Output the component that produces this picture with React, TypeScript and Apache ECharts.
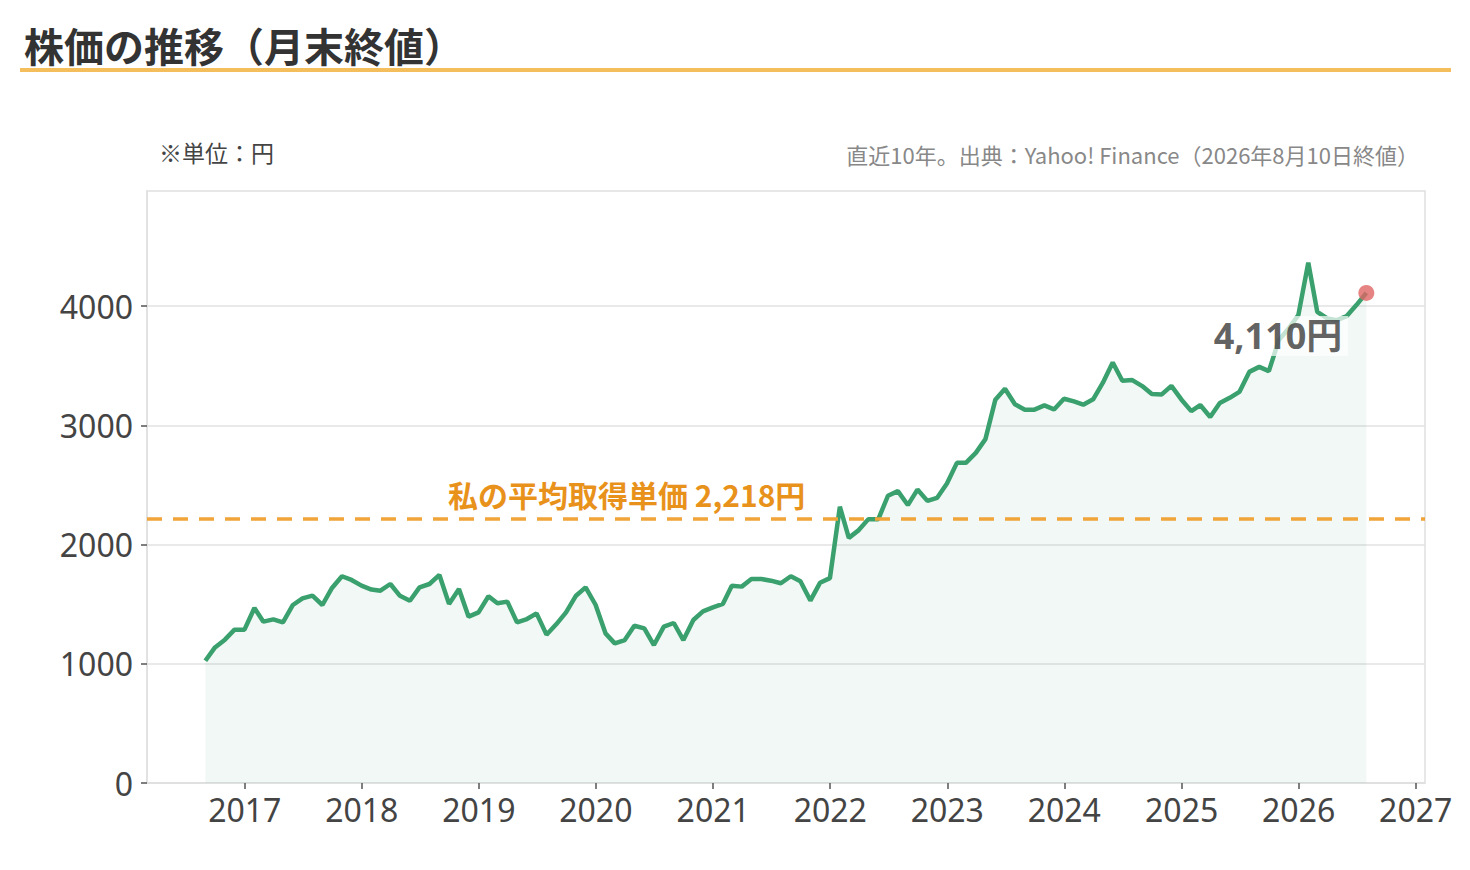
import React, { useEffect, useRef } from 'react'
import * as echarts from 'echarts'

// 月末終値（2016年8月〜2026年7月、最後は 2026/8/10 の終値相当）
const START_YEAR = 2016
const START_MONTH = 8
const prices = [
  1025, 1137, 1202, 1286, 1286, 1468, 1353, 1372, 1347, 1493, 1549, 1571,
  1493, 1636, 1734, 1703, 1655, 1622, 1613, 1669, 1570, 1529, 1641, 1669,
  1745, 1502, 1627, 1395, 1431, 1566, 1507, 1521, 1347, 1375, 1423, 1244,
  1333, 1431, 1571, 1641, 1495, 1255, 1171, 1199, 1319, 1297, 1157, 1311,
  1342, 1199, 1367, 1440, 1473, 1502, 1655, 1647, 1711, 1711, 1697, 1675,
  1734, 1692, 1530, 1679, 1718, 2317, 2056, 2121, 2213, 2213, 2409, 2448,
  2331, 2461, 2366, 2391, 2512, 2685, 2685, 2769, 2884, 3215, 3306, 3176,
  3131, 3131, 3167, 3133, 3223, 3200, 3173, 3218, 3355, 3527, 3373, 3379,
  3329, 3262, 3259, 3331, 3217, 3119, 3170, 3070, 3187, 3230, 3280, 3448,
  3490, 3454, 3714, 3810, 3924, 4364, 3952, 3896, 3882, 3916, 4008, 4110,
]
const yearTicks = ['2017', '2018', '2019', '2020', '2021', '2022', '2023', '2024', '2025', '2026', '2027']
const yTicks = [0, 1000, 2000, 3000, 4000]
const AVG_COST = 2218

const X_MIN = '2016-03-02'
const X_MAX = '2027-01-30'

const pad = (n: number) => String(n).padStart(2, '0')
const monthEnds = prices.map((_, i) => {
  const d = new Date(Date.UTC(START_YEAR, START_MONTH - 1 + i + 1, 0))
  return `${d.getUTCFullYear()}-${pad(d.getUTCMonth() + 1)}-${pad(d.getUTCDate())}`
})
const lineData = monthEnds.map((d, i) => [d, prices[i]])
const lastPoint = lineData[lineData.length - 1]

const CJK = "'Noto Sans CJK JP', 'Noto Sans', sans-serif"
const NUM = "'Noto Sans', 'Noto Sans CJK JP', sans-serif"

export default function App() {
  const ref = useRef<HTMLDivElement | null>(null)

  useEffect(() => {
    if (!ref.current) return
    const chart = echarts.init(ref.current, null, { renderer: 'svg' })
    chart.setOption({
      animation: false,
      textStyle: { fontFamily: CJK },
      title: [
        {
          text: '株価の推移（月末終値）',
          left: 19, top: 20,
          textStyle: { fontSize: 40, fontWeight: 'bold', color: '#333', fontFamily: CJK },
        },
        {
          text: '※単位：円',
          left: 154, top: 135,
          textStyle: { fontSize: 23, fontWeight: 'normal', color: '#444', fontFamily: CJK },
        },
        {
          text: '直近10年。出典：Yahoo! Finance（2026年8月10日終値）',
          right: 46, top: 138,
          textStyle: { fontSize: 22, fontWeight: 'normal', color: '#888', fontFamily: CJK },
        },
      ],
      graphic: [
        { type: 'rect', shape: { x: 20, y: 68, width: 1431, height: 4 }, style: { fill: '#f5be5c' } },
      ],
      grid: {
        left: 147, right: 45, top: 191, bottom: 87,
        show: true, borderColor: '#e0e0e0', borderWidth: 1.5,
      },
      xAxis: {
        type: 'time',
        min: X_MIN,
        max: X_MAX,
        axisLine: { show: true, lineStyle: { color: '#e0e0e0', width: 1.5 } },
        axisTick: { show: true, customValues: yearTicks.map(y => `${y}-01-01`), length: 6, lineStyle: { color: '#555', width: 1.5 } },
        axisLabel: {
          customValues: yearTicks.map(y => `${y}-01-01`),
          formatter: '{yyyy}',
          fontSize: 32, color: '#444', margin: 10, fontFamily: NUM,
        },
        splitLine: { show: false },
      },
      yAxis: {
        type: 'value',
        min: 0, max: 4965, interval: 1000,
        axisLine: { show: true, lineStyle: { color: '#e0e0e0', width: 1.5 } },
        axisTick: { show: true, customValues: yTicks, length: 6, lineStyle: { color: '#555', width: 1.5 } },
        axisLabel: {
          customValues: yTicks,
          formatter: (v: number) => String(v),
          fontSize: 32, color: '#444', margin: 14, fontFamily: NUM,
        },
        splitLine: { show: true, lineStyle: { color: '#e2e2e2', width: 1.5 } },
      },
      series: [
        {
          type: 'line',
          data: lineData,
          showSymbol: false,
          symbol: 'none',
          lineStyle: { color: '#3aa06d', width: 4.5 },
          areaStyle: { color: 'rgba(58,160,109,0.1)' },
          silent: true,
          markLine: {
            silent: true,
            symbol: 'none',
            data: [[
              { coord: [X_MIN, AVG_COST] },
              { coord: [X_MAX, AVG_COST] },
            ]],
            lineStyle: { color: '#f0a43a', width: 3.5, type: [15, 11] },
            label: {
              show: true,
              position: 'insideStartTop',
              distance: [301, 10],
              formatter: `私の平均取得単価 ${AVG_COST.toLocaleString()}円`,
              fontSize: 30, fontWeight: 'bold', color: '#e8921c', fontFamily: CJK,
            },
          },
          z: 2,
        },
        {
          type: 'scatter',
          data: [lastPoint],
          symbol: 'circle',
          symbolSize: 16,
          itemStyle: { color: '#e06565' },
          silent: true,
          z: 4,
          label: {
            show: true,
            position: 'left',
            distance: 10,
            offset: [0, 43],
            formatter: (p: any) => `${Number(p.value[1]).toLocaleString()}円`,
            fontSize: 36, fontWeight: 'bold', color: '#383838', fontFamily: NUM,
            backgroundColor: 'rgba(255,255,255,0.88)',
            padding: [3, 6, 1, 6],
          },
        },
      ],
    } as any)
    return () => chart.dispose()
  }, [])

  return <div ref={ref} style={{ position: 'absolute', left: 0, top: 0, width: 1470, height: 870 }} />
}
